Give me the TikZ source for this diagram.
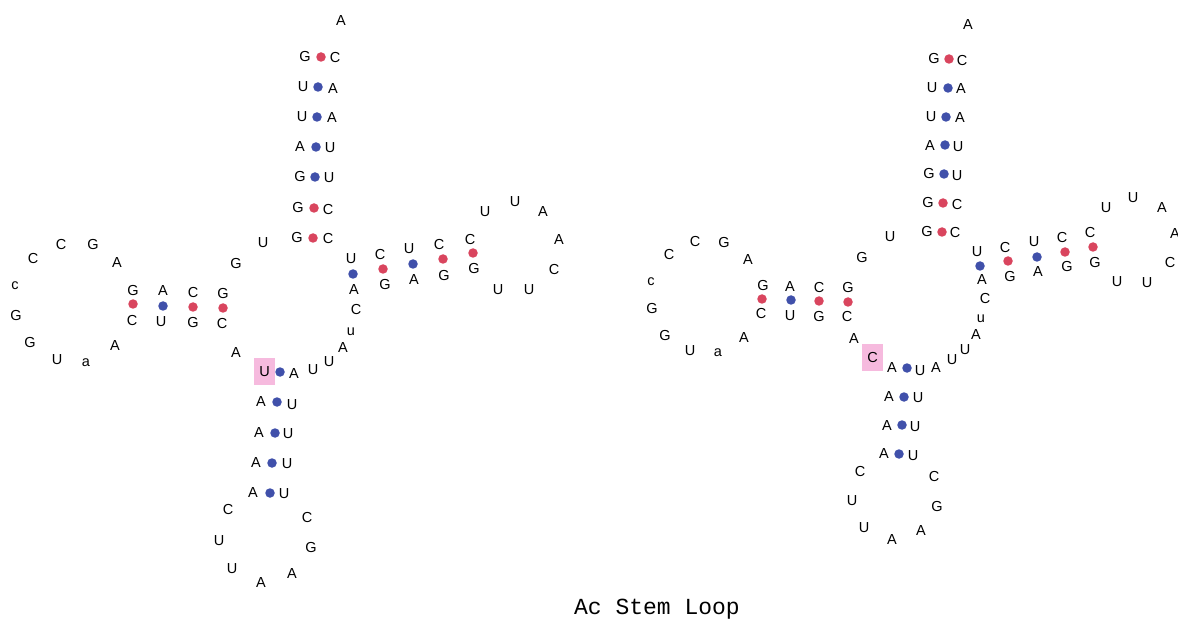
\documentclass[tikz,border=0pt]{standalone}
\usepackage{fontspec}
\setmainfont{Liberation Sans}
\newfontfamily\titlefont{Liberation Mono}
\usepackage{tikz}
\usetikzlibrary{positioning}
\definecolor{pairred}{RGB}{217,69,94}
\definecolor{pairblue}{RGB}{64,80,170}
\definecolor{hlpink}{RGB}{246,186,222}

\begin{document}
\begin{tikzpicture}[
    x=1pt, y=-1pt,
    nt/.style={font=\fontsize{14.5}{15}\selectfont, inner sep=0pt},
    gcpair/.style={circle, fill=pairred, minimum size=9.5pt, inner sep=0pt},
    aupair/.style={circle, fill=pairblue, minimum size=9.5pt, inner sep=0pt},
    hl/.style={nt, fill=hlpink, minimum width=21pt, minimum height=27pt}
]
\useasboundingbox (0,0) rectangle (1178,620);

% left structure
\foreach \x/\y/\b [count=\i] in {
    33/259/C, 61/245/C, 93/245/G, 117/263/A, 15/286/c, 16/316/G, 30/343/G,
    57/360/U, 86/363/a, 115/346/A,
    133/291/G, 163/291/A, 193/293/C, 223/294/G,
    132/321/C, 161/322/U, 193/323/G, 222/324/C,
    236/264/G, 263/243/U, 236/353/A,
    305/57/G, 303/87/U, 302/117/U, 300/147/A, 300/177/G, 298/208/G, 297/238/G,
    335/58/C, 333/89/A, 332/118/A, 330/148/U, 329/178/U, 328/210/C, 328/239/C,
    341/21/A,
    351/259/U, 354/290/A, 380/255/C, 385/285/G, 409/249/U, 414/280/A,
    439/245/C, 444/276/G, 470/240/C, 474/269/G,
    485/212/U, 515/202/U, 543/212/A, 559/240/A, 554/270/C, 529/290/U, 498/290/U,
    356/310/C, 351/332/u, 343/348/A, 329/362/U, 313/370/U, 294/374/A,
    261/402/A, 259/433/A, 256/463/A, 253/493/A,
    292/405/U, 288/434/U, 287/464/U, 284/494/U,
    228/510/C, 219/541/U, 232/569/U, 261/583/A, 292/574/A, 311/548/G, 307/518/C}
  \node[nt] (l\i) at (\x,\y) {\b};
\node[hl] (lmark) at (264.5,371.5) {U};
\foreach \x/\y [count=\i] in {133/304, 193/307, 223/308, 321/57, 314/208,
    313/238, 383/269, 443/259, 473/253}
  \node[gcpair] (lgc\i) at (\x,\y) {};
\foreach \x/\y [count=\i] in {163/306, 318/87, 317/117, 316/147, 315/177,
    353/274, 413/264, 280/372, 277/402, 275/433, 272/463, 270/493}
  \node[aupair] (lau\i) at (\x,\y) {};

% right structure
\foreach \x/\y/\b [count=\i] in {
    669/255/C, 695/242/C, 724/243/G, 748/260/A, 651/282/c, 652/309/G, 665/336/G,
    690/351/U, 718/353/a, 744/338/A,
    763/286/G, 790/287/A, 819/288/C, 848/288/G,
    761/314/C, 790/316/U, 819/317/G, 847/317/C,
    862/258/G, 890/237/U, 854/339/A,
    934/59/G, 932/88/U, 931/117/U, 930/146/A, 929/174/G, 928/203/G, 927/232/G,
    962/61/C, 961/89/A, 960/118/A, 958/147/U, 957/176/U, 957/205/C, 955/233/C,
    968/25/A,
    977/252/U, 982/280/A, 1005/248/C, 1010/277/G, 1034/242/U, 1038/272/A,
    1062/238/C, 1067/267/G, 1090/233/C, 1095/263/G,
    1106/208/U, 1133/198/U, 1162/208/A, 1175/234/A, 1170/263/C, 1147/283/U, 1117/282/U,
    985/299/C, 981/319/u, 976/335/A, 965/350/U, 952/360/U, 936/368/A,
    892/368/A, 889/397/A, 887/426/A, 884/454/A,
    920/371/U, 918/398/U, 915/427/U, 913/456/U,
    860/472/C, 852/501/U, 864/528/U, 892/540/A, 921/531/A, 937/507/G, 934/477/C}
  \node[nt] (r\i) at (\x,\y) {\b};
\node[hl] (rmark) at (872.5,357.5) {C};
\foreach \x/\y [count=\i] in {762/299, 819/301, 848/302, 949/59, 943/203,
    942/232, 1008/261, 1065/252, 1093/247}
  \node[gcpair] (rgc\i) at (\x,\y) {};
\foreach \x/\y [count=\i] in {791/300, 948/88, 946/117, 945/145, 944/174,
    980/266, 1037/257, 907/368, 904/397, 902/425, 899/454}
  \node[aupair] (rau\i) at (\x,\y) {};

\node[font=\titlefont\fontsize{23}{24}\selectfont] (title) at (657,609) {Ac Stem Loop};
\end{tikzpicture}
\end{document}
